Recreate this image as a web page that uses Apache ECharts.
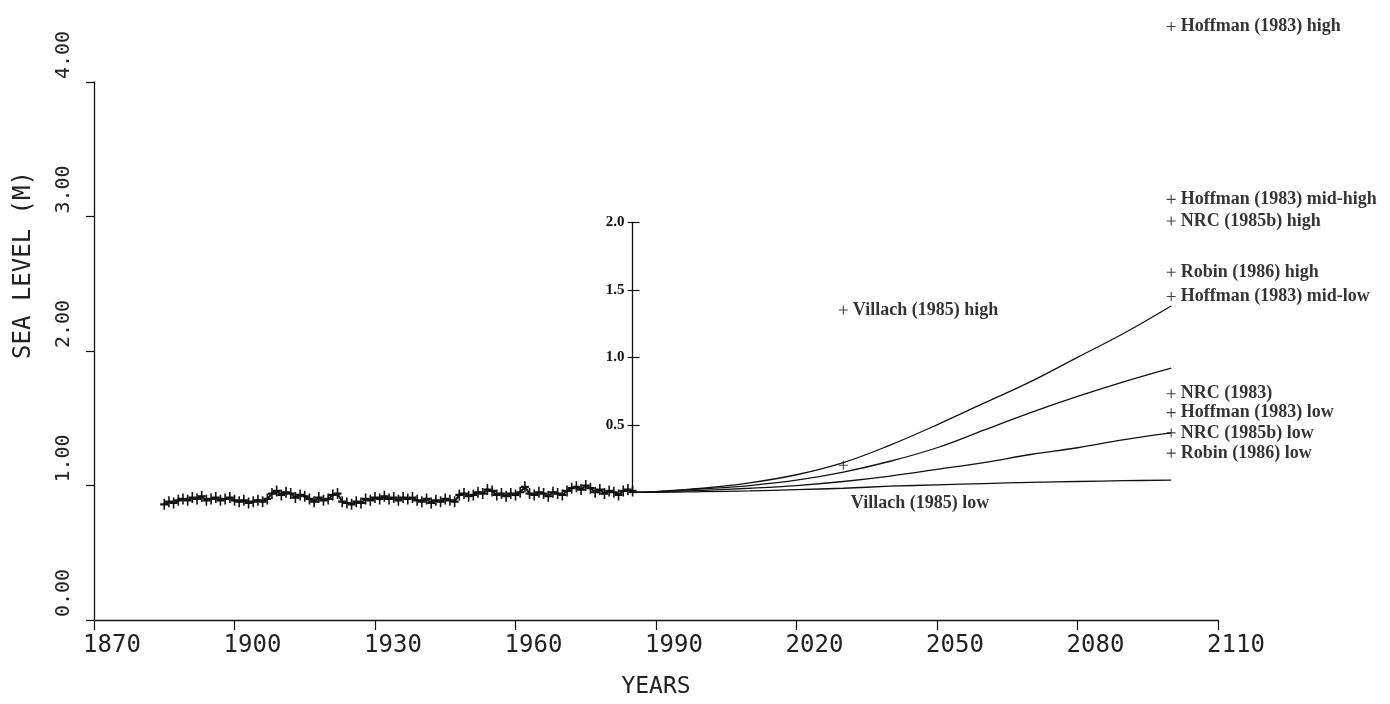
<!DOCTYPE html>
<html>
<head>
<meta charset="utf-8">
<title>Sea level</title>
<script src="https://cdn.jsdelivr.net/npm/echarts@6/dist/echarts.min.js"></script>
<style>
html, body { margin: 0; padding: 0; background: #fff; }
#main { width: 1390px; height: 704px; }
</style>
</head>
<body>
<div id="main"></div>
<script>
// tick labels
var yearTicks = [1870, 1900, 1930, 1960, 1990, 2020, 2050, 2080, 2110];
var levelTicks = ['0.00', '1.00', '2.00', '3.00', '4.00'];
var riseTicks = ['', '0.5', '1.0', '1.5', '2.0'];

// observed sea level (m), one value a year from 1885 to 1985
var histStart = 1885;
var histValues = [
  0.86, 0.88, 0.87, 0.89, 0.90, 0.89, 0.91, 0.90, 0.92,
  0.89, 0.90, 0.91, 0.89, 0.90, 0.91, 0.89, 0.88, 0.89, 0.87,
  0.88, 0.89, 0.88, 0.90, 0.94, 0.96, 0.93, 0.95, 0.94, 0.91,
  0.93, 0.92, 0.90, 0.88, 0.91, 0.89, 0.90, 0.93, 0.94, 0.88,
  0.87, 0.86, 0.88, 0.87, 0.90, 0.89, 0.91, 0.90, 0.92, 0.90,
  0.91, 0.89, 0.91, 0.90, 0.91, 0.89, 0.88, 0.90, 0.87, 0.89,
  0.88, 0.90, 0.89, 0.88, 0.93, 0.94, 0.92, 0.93, 0.95, 0.94,
  0.97, 0.96, 0.93, 0.94, 0.92, 0.94, 0.93, 0.95, 0.99, 0.94,
  0.93, 0.95, 0.94, 0.92, 0.95, 0.94, 0.93, 0.96, 0.98, 0.99,
  0.97, 1.00, 0.98, 0.95, 0.97, 0.94, 0.96, 0.95, 0.93, 0.96,
  0.97, 0.96
];

// projected rise above the 1985 level (m)
var projYears = [1985, 1990, 2000, 2010, 2020, 2030, 2040, 2050, 2060, 2070, 2080, 2090, 2100];
var projA = [0, 0.005, 0.03, 0.07, 0.13, 0.22, 0.35, 0.50, 0.66, 0.82, 1.00, 1.18, 1.38];
var projB = [0, 0.005, 0.025, 0.05, 0.09, 0.15, 0.23, 0.33, 0.46, 0.59, 0.71, 0.82, 0.92];
var projC = [0, 0.003, 0.015, 0.03, 0.05, 0.08, 0.12, 0.17, 0.22, 0.28, 0.33, 0.39, 0.44];
var projD = [0, 0.0, 0.005, 0.01, 0.02, 0.03, 0.045, 0.055, 0.065, 0.073, 0.08, 0.086, 0.09];

// scenario estimates for 2100 (m)
var scenYear = 2100;
var scenNames = ['Hoffman (1983) high', 'Hoffman (1983) mid-high', 'NRC (1985b) high',
  'Robin (1986) high', 'Hoffman (1983) mid-low', 'NRC (1983)', 'Hoffman (1983) low',
  'NRC (1985b) low', 'Robin (1986) low'];
var scenValues = [3.45, 2.17, 2.01, 1.63, 1.45, 0.73, 0.59, 0.44, 0.29];

// Villach (1985) estimates for 2030 (m)
var villachYear = 2030;
var villachHigh = 1.35;
var villachLow = 0.20;

var plus = 'path://M0,4.4H10V5.6H0ZM4.4,0H5.6V10H4.4Z';
var boldPlus = 'path://M0,4H10V6H0ZM4,0H6V10H4Z';
var ink = '#111';
var plotFont = "'DejaVu Sans Mono', monospace";
var noteFont = "'Liberation Serif', 'Times New Roman', serif";

var myChart = echarts.init(document.getElementById('main'));

function projSeries(vals) {
  return {
    type: 'line',
    xAxisIndex: 1,
    yAxisIndex: 1,
    data: projYears.map(function (y, i) { return [y, vals[i]]; }),
    smooth: 0.4,
    showSymbol: false,
    clip: false,
    lineStyle: { color: ink, width: 1.3 },
    z: 3
  };
}

var noteLabel = {
  show: true,
  position: 'right',
  distance: 5,
  formatter: '{b}',
  color: '#000',
  fontFamily: noteFont,
  fontWeight: 'bold',
  fontSize: 18
};

myChart.setOption({
  animation: false,
  backgroundColor: '#fff',
  grid: [
    { left: 94, right: 172, top: 82, bottom: 82 },
    { left: 632.6, right: 172, top: 222.3, bottom: 211.7 }
  ],
  xAxis: [{
    type: 'value',
    gridIndex: 0,
    min: 1870,
    max: 2110,
    interval: 30,
    splitLine: { show: false },
    axisLine: { onZero: false, lineStyle: { color: ink, width: 1.3 } },
    axisTick: { length: 10, lineStyle: { color: ink, width: 1.2 } },
    axisLabel: {
      formatter: function (v) { return String(yearTicks[Math.round((v - 1870) / 30)]); },
      fontFamily: plotFont,
      fontSize: 24,
      color: '#222',
      margin: 14,
      padding: [0, 0, 0, 36]
    },
    name: 'YEARS',
    nameLocation: 'middle',
    nameGap: 56,
    nameTextStyle: { fontFamily: plotFont, fontSize: 23, color: '#222' }
  }, {
    type: 'value',
    gridIndex: 1,
    min: 1985,
    max: 2110,
    show: false
  }],
  yAxis: [{
    type: 'value',
    gridIndex: 0,
    min: 0,
    max: 4,
    interval: 1,
    splitLine: { show: false },
    axisLine: { show: true, onZero: false, lineStyle: { color: ink, width: 1.3 } },
    axisTick: { show: true, length: 8, lineStyle: { color: ink, width: 1.2 } },
    axisLabel: {
      rotate: 90,
      formatter: function (v) { return levelTicks[Math.round(v)]; },
      fontFamily: plotFont,
      fontSize: 20,
      color: '#222',
      margin: 20,
      padding: [0, 0, 0, 54]
    },
    name: 'SEA LEVEL (M)',
    nameLocation: 'middle',
    nameRotate: 90,
    nameGap: 58,
    nameTextStyle: { fontFamily: plotFont, fontSize: 24, color: '#222', padding: [0, 0, 0, 172] }
  }, {
    type: 'value',
    gridIndex: 1,
    position: 'left',
    min: 0,
    max: 2,
    interval: 0.5,
    splitLine: { show: false },
    axisLine: { show: true, onZero: false, lineStyle: { color: ink, width: 1.3 } },
    axisTick: { show: true, length: 5, lineStyle: { color: ink, width: 1.2 } },
    axisLabel: {
      formatter: function (v) { return riseTicks[Math.round(v * 2)]; },
      fontFamily: noteFont,
      fontWeight: 'bold',
      fontSize: 15,
      color: '#111',
      margin: 8
    }
  }, {
    type: 'value',
    gridIndex: 1,
    position: 'left',
    min: 0,
    max: 2,
    interval: 0.5,
    splitLine: { show: false },
    axisLine: { show: false, onZero: false },
    axisTick: { show: true, inside: true, length: 7, lineStyle: { color: ink, width: 1.2 } },
    axisLabel: { show: false }
  }],
  series: [
    {
      type: 'line',
      xAxisIndex: 0,
      yAxisIndex: 0,
      data: histValues.map(function (v, i) { return [histStart + i, v]; }),
      symbol: boldPlus,
      symbolSize: [8, 11],
      showSymbol: true,
      itemStyle: { color: ink },
      lineStyle: { color: ink, width: 2 },
      z: 4
    },
    projSeries(projA),
    projSeries(projB),
    projSeries(projC),
    projSeries(projD),
    {
      type: 'scatter',
      xAxisIndex: 1,
      yAxisIndex: 1,
      clip: false,
      symbol: plus,
      symbolSize: 9,
      itemStyle: { color: ink },
      label: noteLabel,
      data: scenNames.map(function (n, i) { return { name: n, value: [scenYear, scenValues[i]] }; })
    },
    {
      type: 'scatter',
      xAxisIndex: 1,
      yAxisIndex: 1,
      clip: false,
      symbol: plus,
      symbolSize: 9,
      itemStyle: { color: ink },
      label: noteLabel,
      data: [
        { name: 'Villach (1985) high', value: [villachYear, villachHigh] },
        { name: 'Villach (1985) low', value: [villachYear, villachLow],
          label: { offset: [-2, 38] } }
      ]
    }
  ]
});
</script>
</body>
</html>
